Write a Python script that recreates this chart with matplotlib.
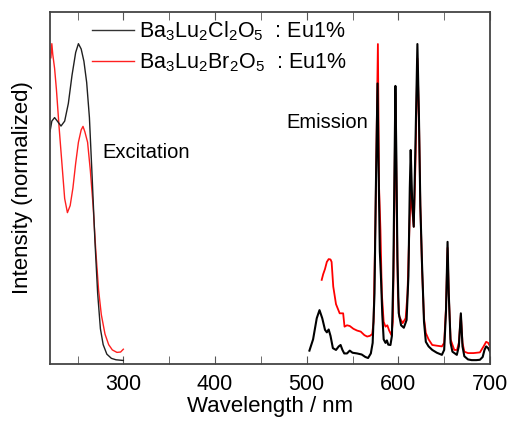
import matplotlib
matplotlib.use('Agg')
import matplotlib.pyplot as plt

plt.rcParams['font.family'] = ['Liberation Sans', 'DejaVu Sans']
plt.rcParams['mathtext.fontset'] = 'custom'
plt.rcParams['mathtext.rm'] = 'Liberation Sans'
plt.rcParams['mathtext.it'] = 'Liberation Sans'

# excitation spectra
exc_cl_x = [220, 222, 225, 228, 232, 236, 240, 244, 248, 251, 254, 257, 260, 263,
            266, 269, 272, 275, 278, 282, 287, 292, 300]
exc_cl_y = [0.66, 0.69, 0.70, 0.69, 0.676, 0.69, 0.74, 0.82, 0.885, 0.91, 0.895, 0.86,
            0.80, 0.70, 0.53, 0.35, 0.20, 0.10, 0.055, 0.028, 0.016, 0.012, 0.01]

exc_br_x = [221, 222, 223, 225, 227, 230, 233, 236, 239, 242, 245, 248, 251, 254, 256,
            258, 261, 264, 267, 270, 273, 276, 280, 284, 288, 293, 297, 300]
exc_br_y = [0.87, 0.91, 0.88, 0.84, 0.78, 0.67, 0.57, 0.47, 0.43, 0.45, 0.50, 0.57, 0.63,
            0.665, 0.675, 0.66, 0.63, 0.55, 0.45, 0.32, 0.21, 0.14, 0.085, 0.055, 0.04,
            0.033, 0.034, 0.042]

# emission spectra
em_cl_x = [503, 507, 511, 514, 517, 520, 522, 524, 526, 528.6, 532, 535, 537, 539, 541,
           544, 547, 550, 555, 560, 564, 567, 570, 572, 574, 575.5, 577.3, 578.5, 579.8,
           581, 582.5, 584, 586, 587.5, 589, 591.4, 593, 594.5, 596, 596.8, 597.8, 599,
           600.4, 603, 606, 609, 611, 612.5, 613.5, 615, 616.8, 618.5, 620.8, 622.5, 624,
           625.8, 628, 630, 633, 637, 642, 647.5, 650, 652, 653.7, 655, 657, 659, 663.8,
           666, 668.2, 670, 672, 676, 680, 685, 689, 692, 694, 695.8, 698, 700]
em_cl_y = [0.038, 0.07, 0.13, 0.153, 0.13, 0.097, 0.09, 0.098, 0.08, 0.045, 0.04, 0.05,
           0.054, 0.04, 0.03, 0.03, 0.038, 0.032, 0.03, 0.027, 0.02, 0.017, 0.03, 0.06,
           0.2, 0.5, 0.797, 0.55, 0.32, 0.25, 0.14, 0.07, 0.06, 0.067, 0.055, 0.054, 0.08,
           0.25, 0.6, 0.79, 0.6, 0.3, 0.145, 0.11, 0.103, 0.125, 0.25, 0.5, 0.608, 0.47,
           0.39, 0.6, 0.909, 0.7, 0.45, 0.287, 0.12, 0.063, 0.05, 0.04, 0.032, 0.026, 0.04,
           0.15, 0.347, 0.2, 0.06, 0.035, 0.026, 0.05, 0.144, 0.05, 0.022, 0.013, 0.011,
           0.011, 0.012, 0.02, 0.04, 0.05, 0.045, 0.035]

em_br_x = [516.4, 518, 520, 522, 524, 526, 527.2, 529, 532, 536, 539.8, 541.3, 544, 547,
           551, 555, 559, 563, 566, 569, 571.5, 573, 575, 577.7, 579, 580.5, 582, 584,
           586, 588, 590, 592.5, 594, 595.5, 596.8, 598, 599.5, 601, 604.7, 608, 610, 612,
           613.5, 615, 616.8, 618.5, 620.8, 622.5, 624, 626, 628, 630, 633, 637, 642,
           647.5, 650, 652, 653.7, 655, 657, 661, 664, 666, 668.2, 670, 672, 676, 682,
           689, 693, 695.8, 698, 700]
em_br_y = [0.239, 0.255, 0.27, 0.29, 0.298, 0.297, 0.29, 0.22, 0.17, 0.144, 0.144, 0.106,
           0.11, 0.108, 0.10, 0.095, 0.092, 0.082, 0.078, 0.08, 0.085, 0.12, 0.4, 0.909,
           0.5, 0.38, 0.2, 0.12, 0.106, 0.11, 0.095, 0.082, 0.12, 0.4, 0.77, 0.5, 0.2,
           0.135, 0.116, 0.13, 0.2, 0.38, 0.494, 0.44, 0.39, 0.55, 0.868, 0.7, 0.45, 0.26,
           0.13, 0.088, 0.07, 0.054, 0.052, 0.05, 0.06, 0.16, 0.33, 0.2, 0.07, 0.04, 0.04,
           0.06, 0.14, 0.06, 0.035, 0.031, 0.031, 0.033, 0.05, 0.063, 0.06, 0.05]

label_cl = r'Ba$_3$Lu$_2$Cl$_2$O$_5$  : Eu1%'
label_br = r'Ba$_3$Lu$_2$Br$_2$O$_5$  : Eu1%'

fig = plt.figure(figsize=(5.12, 4.21), dpi=100)
ax = fig.add_axes([50/512, 57/421, 440/512, 352/421])

ax.plot(exc_br_x, exc_br_y, color='#ff2020', lw=1.0)
ax.plot(em_br_x, em_br_y, color='#ff0000', lw=1.3)
ax.plot(exc_cl_x, exc_cl_y, color='#202020', lw=1.0)
ax.plot(em_cl_x, em_cl_y, color='black', lw=1.5)

# legend handles
h1, = ax.plot([], [], color='#333333', lw=1.0, label=label_cl)
h2, = ax.plot([], [], color='#ff2020', lw=1.0, label=label_br)
ax.legend(handles=[h1, h2], loc='upper left', bbox_to_anchor=(0.095, 0.98),
          frameon=False, fontsize=15.5, handlelength=1.95, handletextpad=0.25,
          borderaxespad=0, borderpad=0, labelspacing=0.4)

ax.text(0.12, 0.6, 'Excitation', transform=ax.transAxes, fontsize=14.5, va='center')
ax.text(0.537, 0.685, 'Emission', transform=ax.transAxes, fontsize=14.5, va='center')

ax.set_xlim(220, 700)
ax.set_ylim(0, 1)
ax.set_xticks([300, 400, 500, 600, 700])
ax.set_xticks(range(250, 700, 50), minor=True)
ax.set_yticks([])
ax.tick_params(axis='x', which='both', direction='in', top=True, labelsize=15.5,
               pad=7, color='#555555')
ax.tick_params(axis='x', which='major', length=6)
ax.tick_params(axis='x', which='minor', length=6)
for s in ax.spines.values():
    s.set_color('#444444')
    s.set_linewidth(1.3)

ax.set_xlabel('Wavelength / nm', fontsize=16, labelpad=1)
ax.set_ylabel('Intensity (normalized)', fontsize=16, labelpad=12)

fig.savefig('out.png', dpi=100)
